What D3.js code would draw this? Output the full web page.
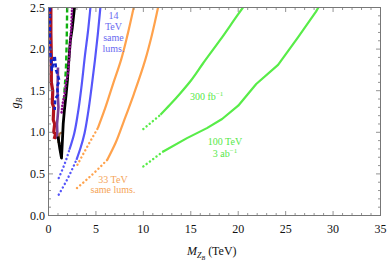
<!DOCTYPE html>
<html><head><meta charset="utf-8">
<script src="https://cdn.jsdelivr.net/npm/d3@7"></script>
<style>body{margin:0;background:#fff}svg{display:block}
svg text{font-family:"Liberation Serif","Noto Serif","DejaVu Serif","Times New Roman",Times,"Nimbus Roman",serif}</style>
</head><body><svg id="c" width="390" height="262"></svg>
<script>
// ---- data (M in TeV, g_B) ----
const xTicks = [0,5,10,15,20,25,30,35];
const yTicks = [0.0,0.5,1.0,1.5,2.0,2.5];
const yTickLabels = ["0.0","0.5","1.0","1.5","2.0","2.5"];
// 100 TeV, 300 fb^-1
const g300Solid = [[11.8,1.21],[12.8,1.33],[13.9,1.47],[15.0,1.62],[16.3,1.83],[18.1,2.11],[20.0,2.42],[20.5,2.5]];
const g300Dot = [[10.0,1.04],[11.8,1.21]];
// 100 TeV, 3 ab^-1
const g3abSolid = [[12.1,0.77],[14.6,0.93],[16.7,1.05],[18.3,1.16],[20.0,1.32],[21.9,1.58],[24.2,1.81],[26.3,2.14],[28.2,2.45],[28.45,2.5]];
const g3abDot = [[10.0,0.59],[12.1,0.77]];
// 33 TeV
const o1Solid = [[5.2,1.05],[6.0,1.3],[6.8,1.58],[7.65,1.87],[8.35,2.18],[8.98,2.5]];
const o1Dot = [[3.05,0.61],[4.1,0.83],[5.2,1.05]];
const o2Solid = [[6.2,0.67],[7.1,0.88],[7.9,1.12],[9.0,1.46],[10.2,1.87],[10.9,2.17],[11.55,2.5]];
const o2Dot = [[3.0,0.33],[4.6,0.49],[6.2,0.67]];
// 14 TeV
const b1Solid = [[2.2,0.79],[2.7,0.98],[3.1,1.23],[3.5,1.57],[3.85,1.93],[4.15,2.2],[4.42,2.5]];
const b1Dot = [[1.08,0.45],[1.7,0.62],[2.2,0.79]];
const b2Solid = [[2.95,0.67],[3.4,0.82],[3.8,0.99],[4.14,1.21],[4.55,1.55],[4.9,1.87],[5.2,2.18],[5.47,2.5]];
const b2Dot = [[1.08,0.25],[2.0,0.44],[2.95,0.67]];
// present LHC-type limits (left cluster)
const redLim = [[0.25,2.5],[0.25,2.2],[0.3,1.9],[0.3,1.6],[0.45,1.5],[0.4,1.35],[0.55,1.3],[0.5,1.15],[0.65,1.1],[0.55,1.0],[0.75,0.98],[0.6,0.92]];
const blueDash = [[0.15,2.5],[0.15,2.1],[0.2,1.95],[0.35,1.75],[0.65,1.92],[0.8,1.75],[1.15,1.62],[0.9,1.55],[1.0,1.45],[0.7,1.4],[0.65,1.27]];
const purpleLim = [[1.0,1.78],[0.95,1.5],[1.05,1.3],[0.9,1.1],[0.95,0.92]];
const brownLim = [[1.4,1.0],[1.15,0.98],[1.05,0.88],[1.25,0.86]];
const blackLim = [[2.74,2.5],[2.5,2.25],[2.3,2.1],[2.1,1.8],[2.0,1.63],[1.85,1.45],[1.68,1.27],[1.55,1.1],[1.47,0.91],[1.37,0.69],[1.2,0.8],[1.0,0.95]];
const greenDash = [[1.97,2.5],[1.92,2.1],[1.85,1.8],[1.75,1.6],[1.63,1.4]];
const purpleDot = [[2.49,2.5],[2.4,2.25],[2.3,2.1],[2.1,1.75],[1.85,1.6],[1.68,1.45],[1.47,1.33],[1.37,1.23]];

// ---- layout ----
const svg = d3.select("#c");
const L=48.5, R=380.5, T=7.5, B=215.5;
const x = d3.scaleLinear().domain([0,35]).range([L,R]);
const y = d3.scaleLinear().domain([0,2.5]).range([B,T]);
const axisCol="#777";

svg.append("clipPath").attr("id","cp").append("rect").attr("x",L).attr("y",T).attr("width",R-L).attr("height",B-T);
const g = svg.append("g").attr("clip-path","url(#cp)");

// gray band near axis
g.append("rect").attr("x",x(0)).attr("y",y(2.5)).attr("width",x(0.2)-x(0)).attr("height",y(1.5)-y(2.5)).attr("fill","#ccc");

const smooth = d3.line().x(d=>x(d[0])).y(d=>y(d[1])).curve(d3.curveMonotoneY);
const straight = d3.line().x(d=>x(d[0])).y(d=>y(d[1]));

function draw(data, col, w, dash, gen, cap){
  g.append("path").attr("d",(gen||smooth)(data)).attr("fill","none").attr("stroke",col)
   .attr("stroke-width",w).attr("stroke-dasharray",dash||null).attr("stroke-linecap",cap||"butt").attr("stroke-linejoin","round");
}
const GREEN="#58ec48", ORANGE="#ffa24c", BLUE="#5656fa";
draw(g300Solid,GREEN,2.2); draw(g300Dot,GREEN,2.4,"0.1,4",straight,"round");
draw(g3abSolid,GREEN,2.2,null,straight); draw(g3abDot,GREEN,2.4,"0.1,4",straight,"round");
draw(o1Solid,ORANGE,2.2); draw(o1Dot,ORANGE,2.4,"0.1,4",smooth,"round");
draw(o2Solid,ORANGE,2.2); draw(o2Dot,ORANGE,2.4,"0.1,4",smooth,"round");
draw(b1Solid,BLUE,2.2); draw(b1Dot,BLUE,2.4,"0.1,4",smooth,"round");
draw(b2Solid,BLUE,2.2); draw(b2Dot,BLUE,2.4,"0.1,4",smooth,"round");

draw(redLim,"#b0141c",3.2,null,straight);
draw(purpleLim,"#7a3e98",2.6,null,straight);
draw(brownLim,"#a87040",2.2,null,straight);
draw(blackLim,"#000",2.8,null,straight);
draw(greenDash,"#10b010",2.4,"5,3",straight);
draw(purpleDot,"#8a0a8a",2.6,"0.1,3.2",straight,"round");
draw(blueDash,"#1022c8",2.6,"4,2.5",straight);

// ---- frame & ticks ----
svg.append("rect").attr("x",L).attr("y",T).attr("width",R-L).attr("height",B-T).attr("fill","none").attr("stroke",axisCol).attr("stroke-width",1);
const tk = svg.append("g").attr("stroke",axisCol).attr("stroke-width",0.8);
d3.range(0,35.01,1).forEach(v=>{
  const len = (v%5===0)?4.5:2.5;
  tk.append("line").attr("x1",x(v)).attr("x2",x(v)).attr("y1",B).attr("y2",B-len);
  tk.append("line").attr("x1",x(v)).attr("x2",x(v)).attr("y1",T).attr("y2",T+len);
});
d3.range(0,2.501,0.1).forEach(v=>{
  const major = Math.abs(v*2-Math.round(v*2))<1e-6;
  const len = major?4.5:2.5;
  tk.append("line").attr("y1",y(v)).attr("y2",y(v)).attr("x1",L).attr("x2",L+len);
  tk.append("line").attr("y1",y(v)).attr("y2",y(v)).attr("x1",R).attr("x2",R-len);
});
svg.append("g").selectAll("text").data(xTicks).join("text")
  .attr("x",d=>x(d)).attr("y",233).attr("text-anchor","middle").attr("font-size",12).attr("fill","#111").text(d=>d);
svg.append("g").selectAll("text").data(yTicks).join("text")
  .attr("x",45).attr("y",d=>y(d)+4).attr("text-anchor","end").attr("font-size",12).attr("fill","#111").text((d,i)=>yTickLabels[i]);

// axis titles
const yt = svg.append("text").attr("transform","translate(19,103) rotate(-90)").attr("text-anchor","middle").attr("font-size",12).attr("fill","#111");
yt.append("tspan").attr("font-style","italic").text("g");
yt.append("tspan").attr("font-style","italic").attr("font-size",8).attr("dy",3).text("B");
const xt = svg.append("text").attr("x",187).attr("y",255).attr("font-size",12).attr("fill","#111");
xt.append("tspan").attr("font-style","italic").text("M");
xt.append("tspan").attr("font-style","italic").attr("font-size",8).attr("dy",3).text("Z");
xt.append("tspan").attr("font-style","italic").attr("font-size",6).attr("dy",2).text("B");
xt.append("tspan").attr("dy",-5).text(" (TeV)");

// annotations
function label(lines, cx, y0, dy, col, anchor){
  lines.forEach((s,i)=>{
    const t = svg.append("text").attr("x",cx).attr("y",y0+i*dy).attr("text-anchor",anchor||"middle").attr("font-size",10).attr("fill",col);
    if(Array.isArray(s)){ t.append("tspan").text(s[0]); t.append("tspan").attr("font-size",7).attr("dy",-4).text(s[1]); }
    else t.text(s);
  });
}
label(["14","TeV","same","lums."],113.5,19,11,"#6a6af0");
label(["33 TeV","same lums."],113,182.5,10,"#f5a458");
label([["300 fb","\u22121"]],190,100,11,"#55e848","start");
label(["100 TeV",["3 ab","\u22121"]],225,145,12,"#55e848");
</script></body></html>
